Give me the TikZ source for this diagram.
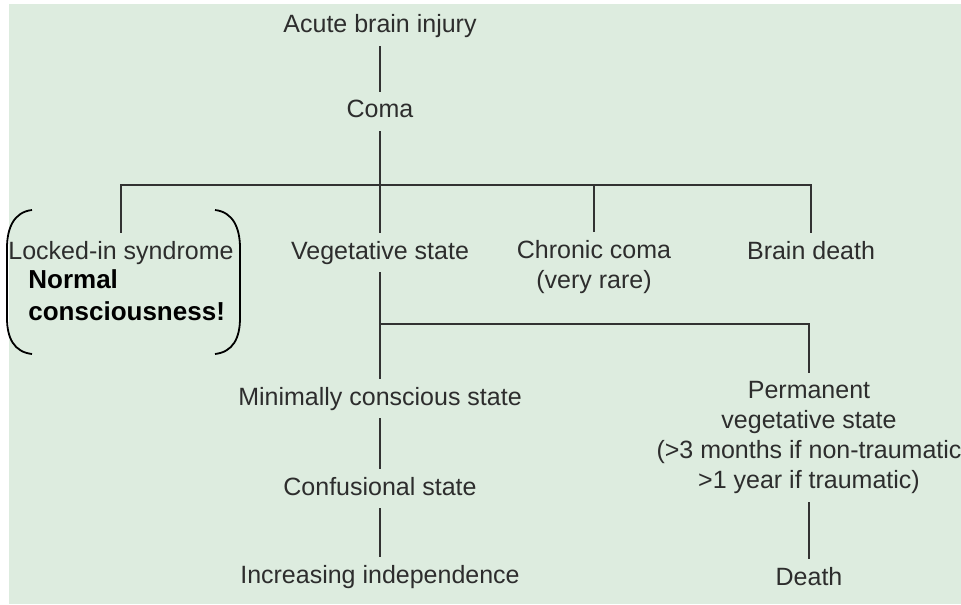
\documentclass[tikz,border=0pt]{standalone}
\usepackage{fontspec}
\setmainfont{Liberation Sans}
\definecolor{bggreen}{RGB}{221,236,223}
\definecolor{txtgray}{RGB}{45,45,45}
\definecolor{linegray}{RGB}{50,50,50}

\begin{document}
\begin{tikzpicture}[x=0.5pt,y=-0.5pt,
	state/.style={font=\fontsize{12.5}{15}\selectfont,text=txtgray,inner sep=4pt,text height=9pt,text depth=2.5pt,anchor=base},
	multistate/.style={font=\fontsize{12.5}{15}\selectfont,text=txtgray,inner sep=4pt,align=center,anchor=north},
	link/.style={draw=linegray,line width=0.9pt}]
	% background
	\useasboundingbox (0,0) rectangle (961,604);
	\fill[bggreen] (9,4) rectangle (961,604);
	% states
	\node[state] (acute) at (380,33) {Acute brain injury};
	\node[state] (coma) at (380,118) {Coma};
	\node[state] (locked) at (121,259) {Locked-in syndrome};
	\node[state] (veg) at (380,259) {Vegetative state};
	\node[multistate] (chronic) at (594,232) {Chronic coma\\(very rare)};
	\node[state] (brain) at (811,259) {Brain death};
	\node[state] (minimal) at (380,405) {Minimally conscious state};
	\node[state] (confus) at (380,495) {Confusional state};
	\node[state] (indep) at (380,583) {Increasing independence};
	\node[multistate] (perm) at (809,373) {Permanent\\vegetative state\\(>3 months if non-traumatic\\>1 year if traumatic)};
	\node[state] (death) at (809,585) {Death};
	% note
	\node[font=\fontsize{13}{16}\selectfont\bfseries,align=left,inner sep=0pt,anchor=north west] (note) at (28,269) {Normal\\consciousness!};
	% splits
	\coordinate (split) at (380,185);
	\coordinate (vegsplit) at (380,324);
	% links
	\draw[link] (acute.south) -- (coma.north);
	\draw[link] (coma.south) -- (veg.north);
	\draw[link] (locked.north) |- (split) -| (brain.north);
	\draw[link] (chronic.north) -- (chronic.north |- split);
	\draw[link] (veg.south) -- (minimal.north);
	\draw[link] (vegsplit) -| (perm.north);
	\draw[link] (minimal.south) -- (confus.north);
	\draw[link] (confus.south) -- (indep.north);
	\draw[link] (perm.south) -- (death.north);
	% brackets
	\draw[line width=0.9pt] (32,210) .. controls (14,212) and (7,228) .. (7,248) -- (7,318) .. controls (7,338) and (14,352) .. (32,354);
	\draw[line width=0.9pt] (215,210) .. controls (233,212) and (240,228) .. (240,248) -- (240,318) .. controls (240,338) and (233,352) .. (215,354);
\end{tikzpicture}
\end{document}
